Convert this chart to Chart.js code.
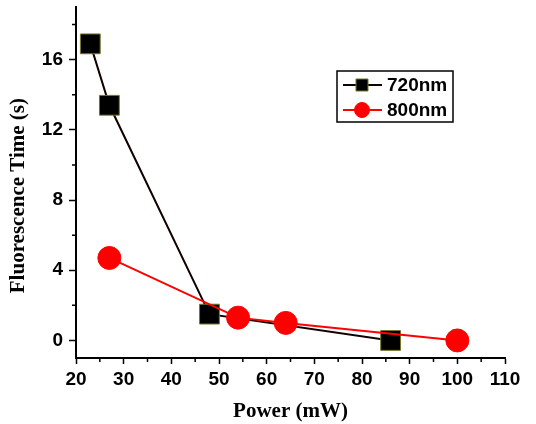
<!DOCTYPE html>
<html>
<head>
<meta charset="utf-8">
<script src="https://cdn.jsdelivr.net/npm/chart.js@4/dist/chart.umd.min.js"></script>
<style>
  html, body { margin: 0; padding: 0; background: #fff; }
  #wrap { width: 536px; height: 424px; }
</style>
</head>
<body>
<div id="wrap"><canvas id="chart"></canvas></div>
<script>
const powers720 = [23, 27, 48, 86];
const times720 = [16.9, 13.4, 1.5, 0];
const powers800 = [27, 54, 64, 100];
const times800 = [4.7, 1.3, 1.0, 0];

const xTicks = [20, 30, 40, 50, 60, 70, 80, 90, 100, 110];
const xMinor = [25, 35, 45, 55, 65, 75, 85, 95, 105];
const yTicks = [0, 4, 8, 12, 16];
const yMinor = [2, 6, 10, 14, 18];

const sansBold = { family: "'Liberation Sans', Arial, sans-serif", weight: 'bold', size: 19 };
const serifBold = { family: "'Liberation Serif', 'Times New Roman', serif", weight: 'bold', size: 21 };

// short ticks between the labelled ones
const minorTicks = {
  id: 'minorTicks',
  afterDraw(chart) {
    const { ctx, scales: { x, y } } = chart;
    ctx.save();
    ctx.strokeStyle = '#000';
    ctx.lineWidth = 1.5;
    ctx.beginPath();
    xMinor.forEach(v => {
      const px = x.getPixelForValue(v);
      ctx.moveTo(px, x.top);
      ctx.lineTo(px, x.top + 4);
    });
    yMinor.forEach(v => {
      const py = y.getPixelForValue(v);
      ctx.moveTo(y.right, py);
      ctx.lineTo(y.right - 4, py);
    });
    ctx.stroke();
    ctx.restore();
  }
};

// boxed legend with line + marker, like the original plot
const boxLegend = {
  id: 'boxLegend',
  afterDraw(chart) {
    const ctx = chart.ctx;
    const bx = 337, by = 71, bw = 116, bh = 51;
    ctx.save();
    ctx.strokeStyle = '#000';
    ctx.lineWidth = 1.5;
    ctx.strokeRect(bx, by, bw, bh);
    const rows = [
      { ds: chart.data.datasets[0], y: by + 14, r: 8.5 },
      { ds: chart.data.datasets[1], y: by + 39, r: 7.5 }
    ];
    rows.forEach(row => {
      ctx.strokeStyle = row.ds.borderColor;
      ctx.lineWidth = 2;
      ctx.beginPath();
      ctx.moveTo(bx + 6, row.y);
      ctx.lineTo(bx + 45, row.y);
      ctx.stroke();
      ctx.fillStyle = row.ds.pointBackgroundColor;
      ctx.strokeStyle = row.ds.pointBorderColor;
      ctx.lineWidth = 1;
      Chart.helpers.drawPoint(ctx, { pointStyle: row.ds.pointStyle, radius: row.r, borderWidth: 1 }, bx + 25, row.y);
      ctx.fillStyle = '#000';
      ctx.font = "bold 19px 'Liberation Sans', Arial, sans-serif";
      ctx.textBaseline = 'middle';
      ctx.textAlign = 'left';
      ctx.fillText(row.ds.label, bx + 50, row.y + 1);
    });
    ctx.restore();
  }
};

new Chart(document.getElementById('chart'), {
  type: 'line',
  data: {
    datasets: [
      {
        label: '720nm',
        data: powers720.map((p, i) => ({ x: p, y: times720[i] })),
        borderColor: '#110000',
        borderWidth: 2,
        pointStyle: 'rect',
        pointRadius: 14,
        pointBackgroundColor: '#000',
        pointBorderColor: '#77772a',
        pointBorderWidth: 1,
        tension: 0,
        clip: false,
        order: 2
      },
      {
        label: '800nm',
        data: powers800.map((p, i) => ({ x: p, y: times800[i] })),
        borderColor: '#ff0000',
        borderWidth: 2,
        pointStyle: 'circle',
        pointRadius: 11.5,
        pointBackgroundColor: '#ff0000',
        pointBorderColor: '#ff0000',
        pointBorderWidth: 1,
        tension: 0,
        clip: false,
        order: 1
      }
    ]
  },
  options: {
    responsive: true,
    maintainAspectRatio: false,
    animation: false,
    layout: { autoPadding: false, padding: { top: 7, right: 31, left: 0, bottom: 0 } },
    plugins: {
      legend: { display: false },
      tooltip: { enabled: false }
    },
    scales: {
      x: {
        type: 'linear',
        min: 20,
        max: 110,
        afterBuildTicks: s => { s.ticks = xTicks.map(v => ({ value: v })); },
        afterFit: s => { s.height = 66; s.paddingLeft = 0; s.paddingRight = 0; },
        grid: { drawOnChartArea: false, drawTicks: true, tickLength: 6, tickColor: '#000', tickWidth: 1.5 },
        border: { display: true, color: '#000', width: 2 },
        ticks: { color: '#000', font: sansBold, padding: 4, maxRotation: 0, autoSkip: false },
        title: { display: true, text: 'Power (mW)', color: '#000', font: serifBold, padding: { top: 0, bottom: 0 } }
      },
      y: {
        type: 'linear',
        min: -1,
        max: 19,
        afterBuildTicks: s => { s.ticks = yTicks.map(v => ({ value: v })); },
        afterFit: s => { s.width = 76; s.paddingTop = 0; s.paddingBottom = 0; },
        grid: { drawOnChartArea: false, drawTicks: true, tickLength: 7, tickColor: '#000', tickWidth: 1.5 },
        border: { display: true, color: '#000', width: 2 },
        ticks: { color: '#000', font: sansBold, padding: 6, autoSkip: false },
        title: { display: true, text: 'Fluorescence Time (s)     ', color: '#000', font: serifBold, padding: { top: 6, bottom: 0 } }
      }
    }
  },
  plugins: [minorTicks, boxLegend]
});
</script>
</body>
</html>
